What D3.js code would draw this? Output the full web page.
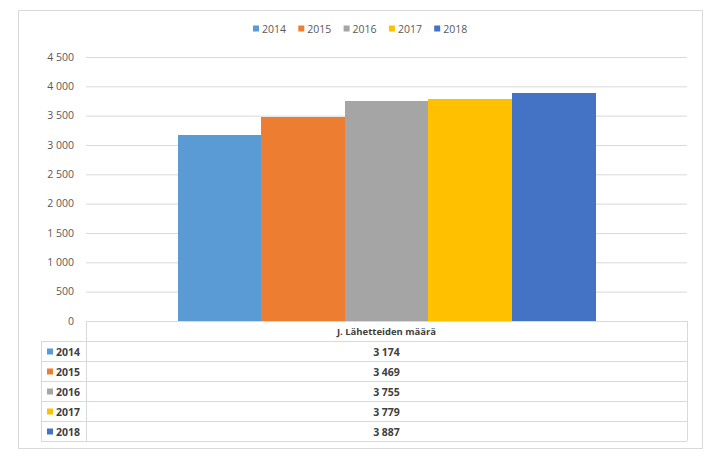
<!DOCTYPE html>
<html><head><meta charset="utf-8">
<script src="https://cdn.jsdelivr.net/npm/d3@7"></script>
<style>body{margin:0;background:#fff;}svg{display:block;font-family:"Open Sans",Calibri,sans-serif;}</style>
</head><body><svg id="c" width="713" height="466"></svg>
<script>
const categories = ["J. Lähetteiden määrä"];
const years = ["2014","2015","2016","2017","2018"];
const values = [3174, 3469, 3755, 3779, 3887];
const colors = ["#5b9bd5","#ed7d31","#a5a5a5","#ffc000","#4472c4"];
const yTicks = [0,500,1000,1500,2000,2500,3000,3500,4000,4500];
const fmt = v => d3.format(",")(v).replace(/,/g," ");

const svg = d3.select("#c");
const L=86, R=687, T=57, B=321, rowH=20, tableLeft=41;
svg.append("rect").attr("x",18.5).attr("y",10.5).attr("width",684).attr("height",438)
  .attr("fill","#fff").attr("stroke","#d9d9d9");

const y = d3.scaleLinear().domain([0,4500]).range([B,T]);
const x0 = d3.scaleBand().domain(categories).range([L,R]).paddingInner(0).paddingOuter(0.219);
const x1 = d3.scaleBand().domain(years).range([0,x0.bandwidth()]);

svg.append("g").selectAll("line").data(yTicks.filter(d=>d>0)).join("line")
  .attr("x1",L).attr("x2",R).attr("y1",d=>y(d)+0.5).attr("y2",d=>y(d)+0.5)
  .attr("stroke","#d9d9d9");
svg.append("g").selectAll("text").data(yTicks).join("text")
  .attr("x",74).attr("y",d=>y(d)).attr("dy","0.35em").attr("text-anchor","end")
  .attr("font-size",10.5).attr("fill","#595959").text(fmt);

svg.append("g").attr("shape-rendering","crispEdges").selectAll("rect").data(values).join("rect")
  .attr("x",(d,i)=>x0(categories[0])+x1(years[i])).attr("width",x1.bandwidth()+0.5)
  .attr("y",d=>y(d)).attr("height",d=>B-y(d)).attr("fill",(d,i)=>colors[i]);

// legend
const lg = svg.append("g");
years.forEach((yr,i)=>{
  const lx = 253 + i*45.3;
  lg.append("rect").attr("x",lx).attr("y",25.5).attr("width",6).attr("height",6).attr("fill",colors[i]);
  lg.append("text").attr("x",lx+9).attr("y",29).attr("dy","0.35em").attr("font-size",10.5).attr("fill","#595959").text(yr);
});

// data table
const tg = svg.append("g");
const bot = B + rowH*(years.length+1);
const sc = "#d9d9d9";
tg.append("line").attr("x1",L).attr("x2",R).attr("y1",B+0.5).attr("y2",B+0.5).attr("stroke",sc);
d3.range(1,years.length+2).forEach(k=>{
  tg.append("line").attr("x1",tableLeft).attr("x2",R).attr("y1",B+k*rowH+0.5).attr("y2",B+k*rowH+0.5).attr("stroke",sc);
});
tg.append("line").attr("x1",tableLeft+0.5).attr("x2",tableLeft+0.5).attr("y1",B+rowH).attr("y2",bot).attr("stroke",sc);
tg.append("line").attr("x1",L+0.5).attr("x2",L+0.5).attr("y1",B).attr("y2",bot).attr("stroke",sc);
tg.append("line").attr("x1",R+0.5).attr("x2",R+0.5).attr("y1",B).attr("y2",bot).attr("stroke",sc);
const cx = x0(categories[0]) + x0.bandwidth()/2;
tg.append("text").attr("x",cx).attr("y",B+rowH/2+1).attr("dy","0.35em").attr("text-anchor","middle")
  .attr("font-size",9.5).attr("font-weight","bold").attr("fill","#404040").text(categories[0]);
years.forEach((yr,i)=>{
  const ry = B+rowH*(i+1)+rowH/2+1;
  tg.append("rect").attr("x",tableLeft+6).attr("y",ry-3.5).attr("width",6).attr("height",6).attr("fill",colors[i]);
  tg.append("text").attr("x",tableLeft+15).attr("y",ry).attr("dy","0.35em").attr("font-size",10.5)
    .attr("font-weight","bold").attr("fill","#404040").text(yr);
  tg.append("text").attr("x",cx).attr("y",ry).attr("dy","0.35em").attr("text-anchor","middle").attr("font-size",10.5)
    .attr("font-weight","bold").attr("fill","#404040").text(fmt(values[i]));
});
</script></body></html>
